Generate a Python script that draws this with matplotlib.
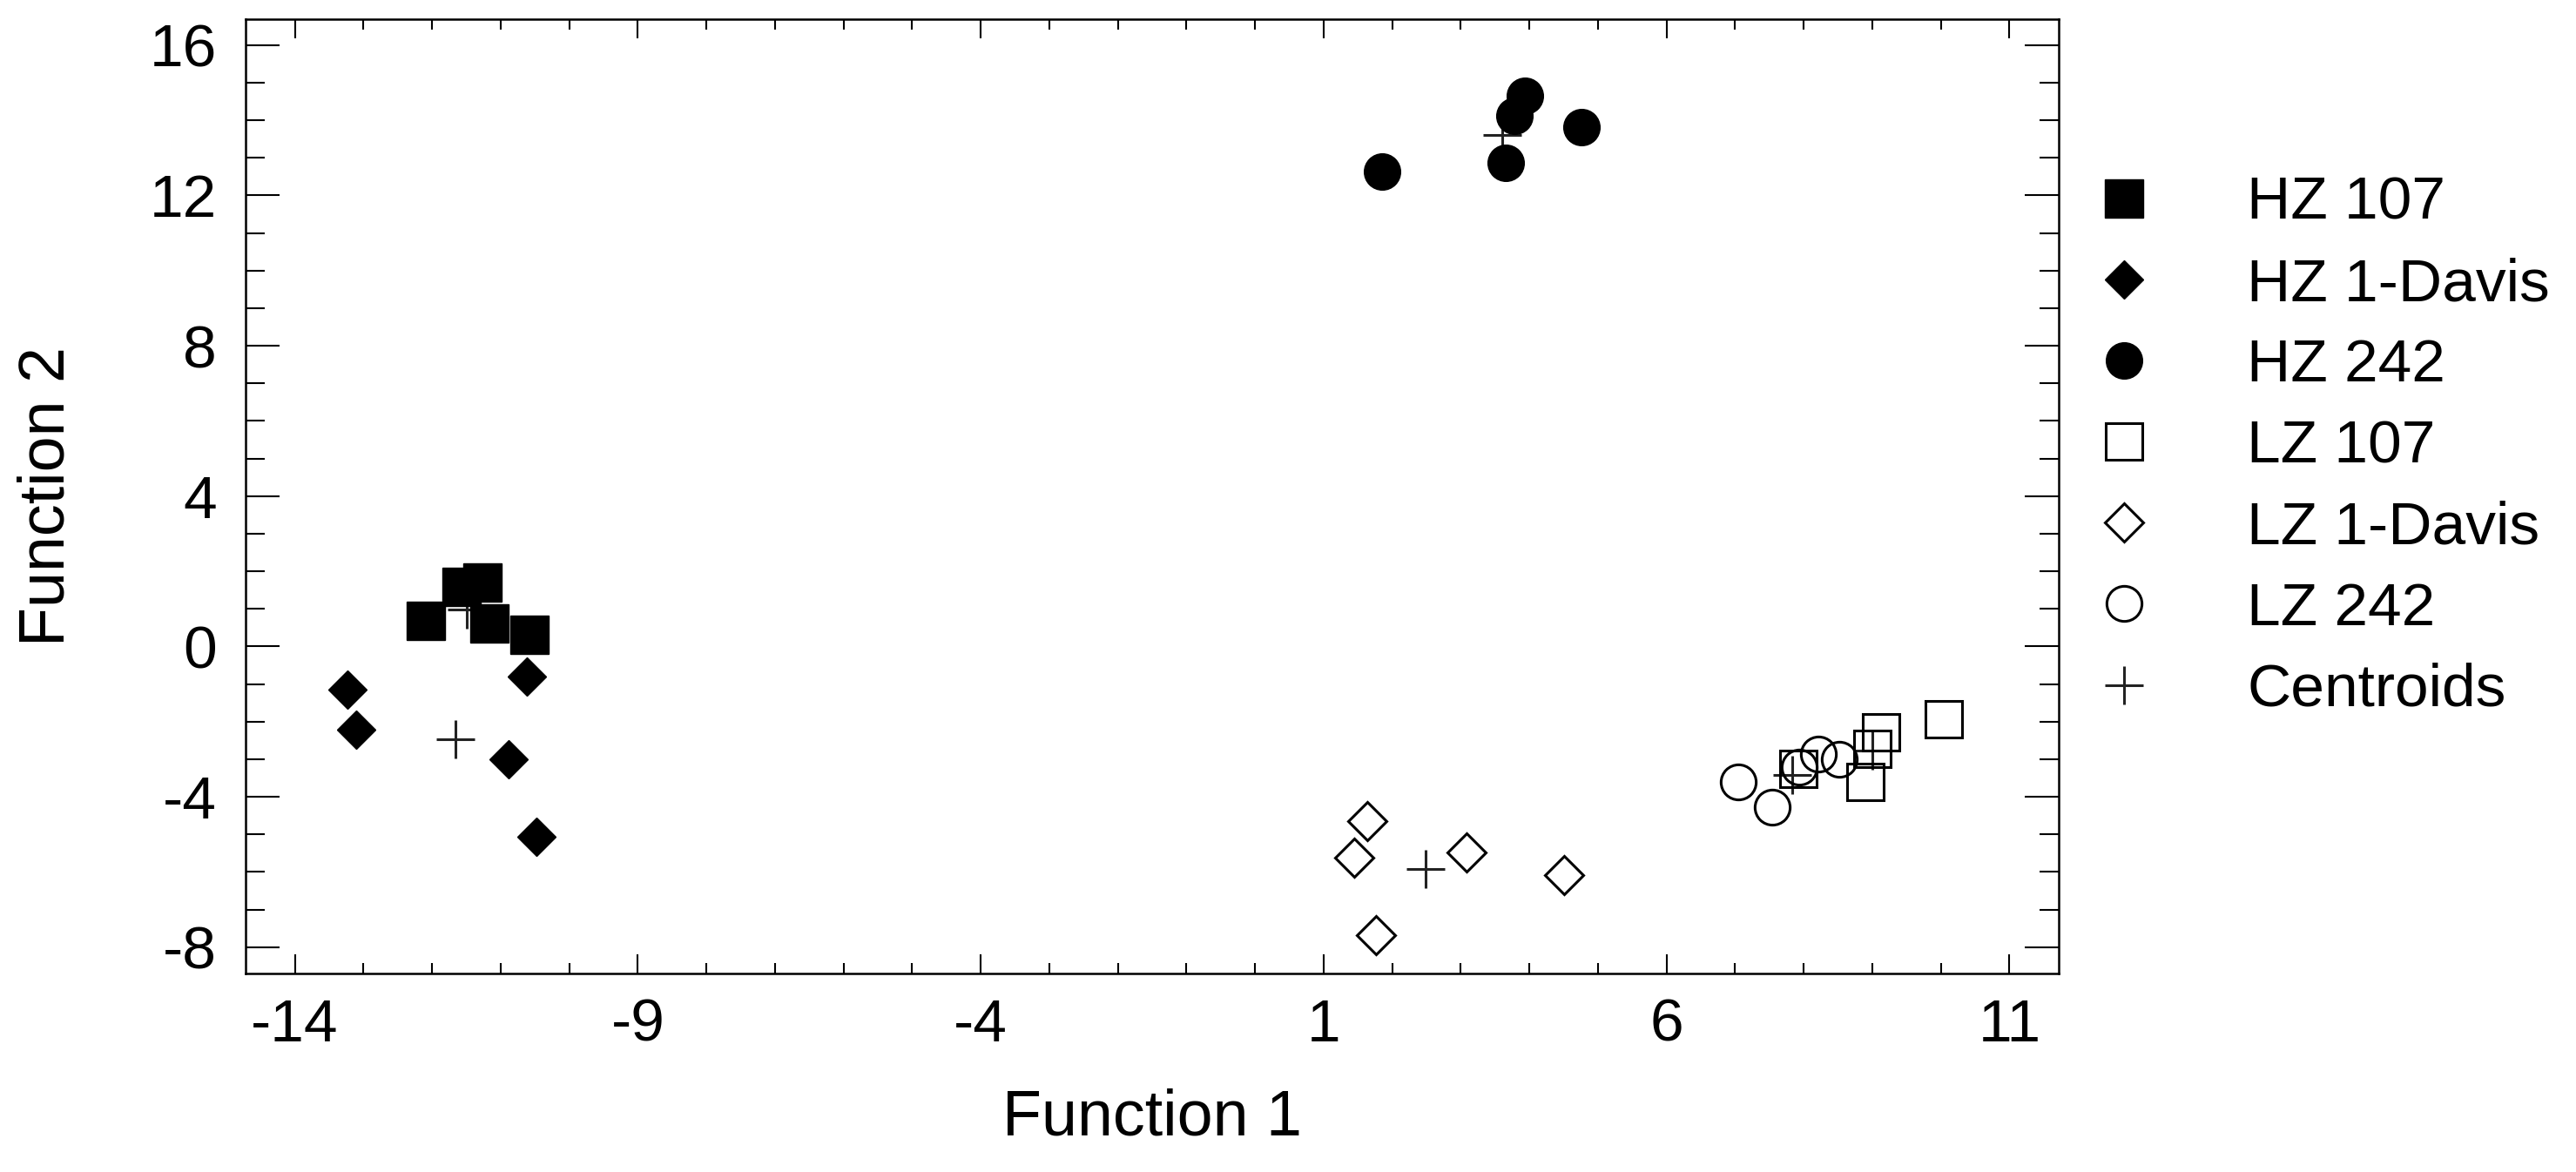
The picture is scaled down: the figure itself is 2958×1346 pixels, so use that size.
import numpy as np
import matplotlib
matplotlib.use("Agg")
import matplotlib.pyplot as plt
from matplotlib.ticker import MultipleLocator

plt.rcParams['font.family'] = ['Liberation Sans', 'DejaVu Sans']
plt.rcParams['axes.unicode_minus'] = False

# discriminant scores
hz107_x = [-12.09, -11.57, -11.27, -11.16, -10.58]
hz107_y = [0.68, 1.59, 1.70, 0.62, 0.32]
hz1d_x = [-13.23, -13.10, -10.62, -10.88, -10.48]
hz1d_y = [-1.14, -2.21, -0.79, -2.99, -5.07]
hz242_x = [1.85, 3.65, 3.78, 3.93, 4.76]
hz242_y = [12.64, 12.87, 14.11, 14.65, 13.82]
lz107_x = [10.04, 9.13, 9.00, 8.90, 7.92]
lz107_y = [-1.94, -2.29, -2.72, -3.60, -3.25]
lz1d_x = [1.64, 1.45, 3.08, 4.51, 1.77]
lz1d_y = [-4.64, -5.62, -5.49, -6.09, -7.69]
lz242_x = [7.05, 7.54, 7.94, 8.21, 8.52]
lz242_y = [-3.60, -4.28, -3.20, -2.87, -2.99]

cent_x = [-11.49, -11.66, 3.61, 9.00, 2.49, 7.83]
cent_y = [0.99, -2.48, 13.60, -2.76, -5.93, -3.43]

labels = ['HZ 107', 'HZ 1-Davis', 'HZ 242', 'LZ 107', 'LZ 1-Davis', 'LZ 242', 'Centroids']

fig = plt.figure(figsize=(29.58, 13.46), dpi=100)
ax = fig.add_axes([0.0953, 0.1694, 0.7039, 0.8146])

ew = 2.2
ax.plot(cent_x, cent_y, ls='none', marker='+', ms=32, mew=2.2, color='#222222', zorder=1)
h1, = ax.plot(hz107_x, hz107_y, ls='none', marker='s', ms=31, color='black', zorder=3)
h2, = ax.plot(hz1d_x, hz1d_y, ls='none', marker='D', ms=22, color='black', zorder=3)
h3, = ax.plot(hz242_x, hz242_y, ls='none', marker='o', ms=30, color='black', zorder=3)
h4, = ax.plot(lz107_x, lz107_y, ls='none', marker='s', ms=30, mfc='none', mec='black', mew=ew, zorder=3)
h5, = ax.plot(lz1d_x, lz1d_y, ls='none', marker='D', ms=22, mfc='none', mec='black', mew=ew, zorder=3)
h6, = ax.plot(lz242_x, lz242_y, ls='none', marker='o', ms=29, mfc='none', mec='black', mew=ew, zorder=3)
h7, = ax.plot([], [], ls='none', marker='+', ms=32, mew=2.2, color='#222222')

ax.set_xlim(-14.72, 11.72)
ax.set_ylim(-8.7, 16.7)
ax.set_xticks(np.arange(-14, 12, 5))
ax.set_yticks(np.arange(-8, 17, 4))
ax.xaxis.set_minor_locator(MultipleLocator(1))
ax.yaxis.set_minor_locator(MultipleLocator(1))

ax.tick_params(axis='both', which='both', direction='in', top=True, right=True, width=1.5, color='black')
ax.tick_params(axis='x', which='major', length=16, labelsize=50, pad=20)
ax.tick_params(axis='x', which='minor', length=8.5)
ax.tick_params(axis='y', which='major', length=28, labelsize=50, pad=24)
ax.tick_params(axis='y', which='minor', length=16)
for s in ax.spines.values():
    s.set_linewidth(1.8)

ax.set_xlabel('Function 1', fontsize=53)
ax.set_ylabel('Function 2', fontsize=53)
ax.xaxis.set_label_coords(0.5, -0.1195)
ax.yaxis.set_label_coords(-0.0927, 0.5)

fig.legend([h1, h2, h3, h4, h5, h6, h7], labels, loc='upper left',
           bbox_to_anchor=(0.8012, 0.850), bbox_transform=fig.transFigure,
           frameon=False, fontsize=50, borderpad=0, borderaxespad=0,
           handlelength=2, handletextpad=1.03, labelspacing=0.42, numpoints=1)

fig.savefig('out.png', dpi=100)
